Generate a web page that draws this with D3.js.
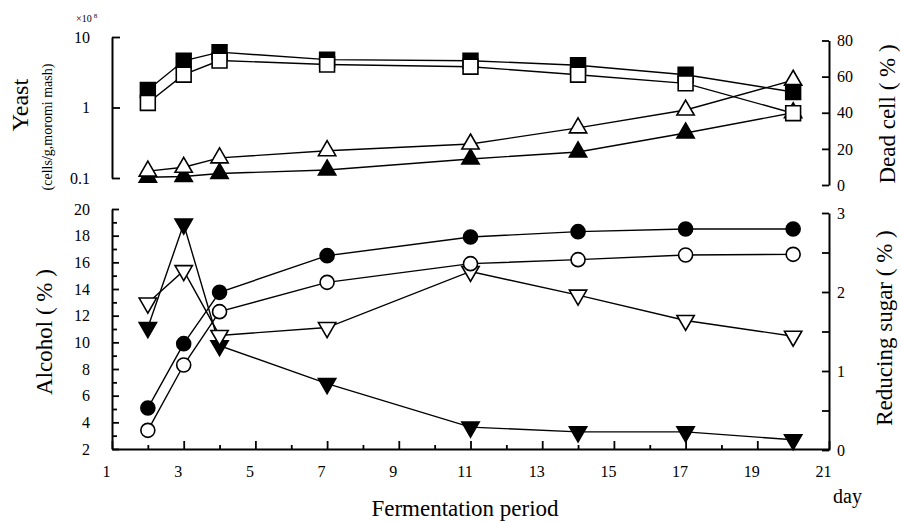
<!DOCTYPE html>
<html>
<head>
<meta charset="utf-8">
<script src="https://cdn.jsdelivr.net/npm/d3@7"></script>
<style>
  html, body { margin: 0; padding: 0; background: #fff; }
  svg { display: block; }
  svg text { font-family: "Liberation Serif", "Times New Roman", serif; }
</style>
</head>
<body>
<div id="chart"></div>
<script>
// Sampling days
const days = [2, 3, 4, 7, 11, 14, 17, 20];

// Top panel: yeast (x10^8 cells/g moromi mash, log axis) and dead cell (%)
const yeastFilled = [1.77, 4.6, 6.1, 4.77, 4.6, 3.98, 2.92, 1.66];
const yeastOpen   = [1.16, 2.92, 4.64, 4.07, 3.79, 2.92, 2.2, 0.83];
const deadFilled  = [4.3, 4.7, 6.4, 8.3, 14.4, 18.3, 28.8, 40];
const deadOpen    = [7.7, 9.8, 15, 19, 22.7, 31.6, 41.5, 58];

// Bottom panel: alcohol (%) and reducing sugar (%)
const alcoholFilled = [5.07, 9.9, 13.75, 16.5, 17.9, 18.3, 18.5, 18.5];
const alcoholOpen   = [3.4, 8.3, 12.3, 14.5, 15.9, 16.2, 16.55, 16.6];
const sugarFilled   = [1.55, 2.86, 1.32, 0.84, 0.29, 0.23, 0.23, 0.13];
const sugarOpen     = [1.86, 2.27, 1.45, 1.55, 2.26, 1.96, 1.64, 1.44];

// Tick values
const xMajor = [1, 3, 5, 7, 9, 11, 13, 15, 17, 19, 21];
const xMinor = [2, 4, 6, 8, 10, 12, 14, 16, 18, 20];
const yeastTicks = [0.1, 1, 10];
const deadTicks = [0, 20, 40, 60, 80];
const alcoholMajor = [2, 4, 6, 8, 10, 12, 14, 16, 18, 20];
const alcoholMinor = [3, 5, 7, 9, 11, 13, 15, 17, 19];
const sugarMajor = [0, 1, 2, 3];
const sugarMinor = [0.5, 1.5, 2.5];

(function() {
  const W = 901, H = 522;
  const serif = '"Liberation Serif", "Times New Roman", serif';

  const svg = d3.select("#chart")
    .append("svg")
    .attr("width", W)
    .attr("height", H);

  const x = d3.scaleLinear().domain([1, 21]).range([112, 829]);
  const yYeast = d3.scaleLog().domain([0.1, 10]).range([178, 37]);
  const yDead = d3.scaleLinear().domain([0, 80]).range([185, 40.5]);
  const yAlc = d3.scaleLinear().domain([2, 20]).range([449, 209]);
  const ySugar = d3.scaleLinear().domain([0, 3]).range([450, 213]);

  function styleAxis(g) {
    g.attr("font-family", serif).attr("font-size", 16);
    g.select(".domain").attr("stroke", "#000").attr("stroke-width", 2);
    g.selectAll(".tick line").attr("stroke", "#000").attr("stroke-width", 1.8);
    g.selectAll(".tick text")
      .attr("fill", "#000")
      .style("font-family", serif)
      .style("font-size", "16px");
  }

  function minorAxis(axis, at) {
    svg.append("g")
      .attr("transform", at)
      .call(axis.tickFormat(""))
      .call(g => g.select(".domain").remove())
      .call(styleAxis);
  }

  const plain = d => String(d);

  // ---- Top panel axes
  svg.append("g")
    .attr("transform", `translate(${x(1)},0)`)
    .call(d3.axisLeft(yYeast).tickValues(yeastTicks).tickFormat(plain)
      .tickSize(-8).tickSizeOuter(0).tickPadding(22))
    .call(styleAxis);

  svg.append("g")
    .attr("transform", `translate(${x(21)},0)`)
    .call(d3.axisRight(yDead).tickValues(deadTicks).tickFormat(plain)
      .tickSize(-7).tickSizeOuter(0).tickPadding(8))
    .call(styleAxis);

  // ---- Bottom panel axes
  svg.append("g")
    .attr("transform", `translate(0,${yAlc(2)})`)
    .call(d3.axisBottom(x).tickValues(xMajor).tickFormat(plain)
      .tickSize(-8).tickSizeOuter(0).tickPadding(17))
    .call(styleAxis)
    .call(g => g.selectAll(".tick text").attr("dx", -6));
  minorAxis(d3.axisBottom(x).tickValues(xMinor).tickSize(-4), `translate(0,${yAlc(2)})`);

  svg.append("g")
    .attr("transform", `translate(${x(1)},0)`)
    .call(d3.axisLeft(yAlc).tickValues(alcoholMajor).tickFormat(plain)
      .tickSize(-7).tickSizeOuter(0).tickPadding(22))
    .call(styleAxis);
  minorAxis(d3.axisLeft(yAlc).tickValues(alcoholMinor).tickSize(-5), `translate(${x(1)},0)`);

  svg.append("g")
    .attr("transform", `translate(${x(21)},0)`)
    .call(d3.axisRight(ySugar).tickValues(sugarMajor).tickFormat(plain)
      .tickSize(-7).tickSizeOuter(0).tickPadding(8))
    .call(styleAxis);
  minorAxis(d3.axisRight(ySugar).tickValues(sugarMinor).tickSize(-7), `translate(${x(21)},0)`);

  // ---- Series
  const square = d3.symbol(d3.symbolSquare, 220);
  const triangle = d3.symbol(d3.symbolTriangle, 130);

  const series = [
    { values: deadFilled,    y: yDead,  marker: "up",     fill: "#000" },
    { values: deadOpen,      y: yDead,  marker: "up",     fill: "#fff" },
    { values: yeastFilled,   y: yYeast, marker: "square", fill: "#000" },
    { values: yeastOpen,     y: yYeast, marker: "square", fill: "#fff" },
    { values: sugarFilled,   y: ySugar, marker: "down",   fill: "#000" },
    { values: sugarOpen,     y: ySugar, marker: "down",   fill: "#fff" },
    { values: alcoholFilled, y: yAlc,   marker: "circle", fill: "#000" },
    { values: alcoholOpen,   y: yAlc,   marker: "circle", fill: "#fff" }
  ];

  const lineG = svg.append("g");
  const markG = svg.append("g");

  series.forEach(s => {
    const pts = days.map((d, i) => [x(d), s.y(s.values[i])]);

    lineG.append("path")
      .attr("d", d3.line()(pts))
      .attr("fill", "none")
      .attr("stroke", "#000")
      .attr("stroke-width", 1.4);

    const m = markG.selectAll(null).data(pts);
    if (s.marker === "circle") {
      m.enter().append("circle")
        .attr("cx", d => d[0])
        .attr("cy", d => d[1])
        .attr("r", 7)
        .attr("fill", s.fill)
        .attr("stroke", "#000")
        .attr("stroke-width", 1.6);
    } else {
      const sym = s.marker === "square" ? square : triangle;
      const rot = s.marker === "down" ? " rotate(180)" : "";
      m.enter().append("path")
        .attr("d", sym)
        .attr("transform", d => `translate(${d[0]},${d[1]})${rot}`)
        .attr("fill", s.fill)
        .attr("stroke", "#000")
        .attr("stroke-width", 1.6)
        .attr("stroke-linejoin", "miter");
    }
  });

  // ---- Titles
  function vText(tx, ty, str, size) {
    svg.append("text")
      .attr("transform", `translate(${tx},${ty}) rotate(-90)`)
      .attr("text-anchor", "middle")
      .style("font-size", size + "px")
      .attr("fill", "#000")
      .text(str);
  }

  vText(28, 105, "Yeast", 24);
  vText(52, 127, "(cells/g,moromi mash)", 14);
  vText(895, 114, "Dead cell ( % )", 23);
  vText(52, 332, "Alcohol ( % )", 23);
  vText(892, 328, "Reducing sugar ( % )", 23);

  const expo = svg.append("text")
    .attr("x", 76)
    .attr("y", 22)
    .style("font-size", "10px")
    .attr("fill", "#000")
    .text("×10");
  expo.append("tspan")
    .attr("dx", 2)
    .attr("dy", -4)
    .style("font-size", "7px")
    .text("8");

  svg.append("text")
    .attr("x", 465)
    .attr("y", 516)
    .attr("text-anchor", "middle")
    .style("font-size", "23px")
    .attr("fill", "#000")
    .text("Fermentation period");

  svg.append("text")
    .attr("x", 833)
    .attr("y", 503)
    .style("font-size", "20px")
    .attr("fill", "#000")
    .text("day");
})();
</script>
</body>
</html>
